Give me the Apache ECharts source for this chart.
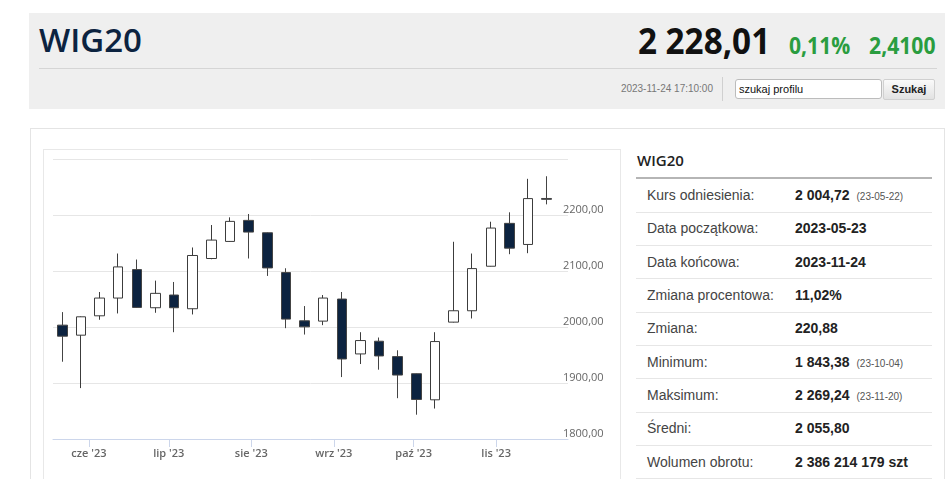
<!DOCTYPE html>
<html><head><meta charset="utf-8">
<script src="https://cdn.jsdelivr.net/npm/echarts@6/dist/echarts.min.js"></script>
<style>
html,body{margin:0;padding:0;background:#fff;width:948px;height:479px;overflow:hidden;}
.abs{position:absolute;white-space:nowrap;}
#hdr{left:29px;top:13px;width:916px;height:96px;background:#efefef;}
#title{left:39px;top:23px;font:600 33px/33px 'Open Sans';color:#0c2340;}
#hline{left:39px;top:68px;width:898px;height:1px;background:#d5d5d5;}
#price{right:178px;top:23px;font:700 35px/35px 'Open Sans';color:#111;transform:scaleX(0.95);transform-origin:right center;}
#pct{left:789px;top:33px;font:700 24px/24px 'Open Sans';color:#2a9d3f;transform:scaleX(0.88);transform-origin:left center;}
#chg{right:13px;top:33px;font:700 24px/24px 'Open Sans';color:#2a9d3f;transform:scaleX(0.88);transform-origin:right center;}
#stamp{right:235px;top:83px;font:10px/12px 'Liberation Sans';color:#777;}
#vsep{left:722px;top:77px;width:1px;height:24px;background:#d0d0d0;}
#inp{left:735px;top:79px;width:142px;height:18px;border:1px solid #bcbcbc;border-radius:3px;background:#fff;font:11px/18px 'Liberation Sans';color:#111;padding-left:3px;box-sizing:content-box;}
#btn{left:883px;top:79px;width:50px;height:19px;border:1px solid #d0d0d0;border-radius:2px;background:linear-gradient(#fafafa,#e2e2e2);font:700 11px/19px 'Liberation Sans';color:#222;text-align:center;}
#outer{left:30px;top:128px;width:913px;height:400px;border:1px solid #e4e4e4;background:#fff;}
#cbox{left:43px;top:149px;width:576px;height:400px;border:1px solid #e8e8e8;background:#fff;}
#ttitle{left:637px;top:153px;font:600 15px/15px 'Open Sans';color:#222;}
#tline{left:636px;top:177px;width:296px;height:2px;background:#b5b5b5;}
.sep{position:absolute;left:636px;width:296px;height:1px;background:#e6e6e6;}
.lab{position:absolute;left:647px;font:14px/16px 'Liberation Sans';color:#444;white-space:nowrap;}
.val{position:absolute;left:795px;font:700 14px/16px 'Liberation Sans';color:#222;white-space:nowrap;}
.note{font:400 10px/16px 'Liberation Sans';color:#555;margin-left:7px;}
#chart{position:absolute;left:0;top:0;width:948px;height:479px;z-index:5;}
</style></head>
<body>
<div class="abs" id="hdr"></div>
<div class="abs" id="title">WIG20</div>
<div class="abs" id="hline"></div>
<div class="abs" id="price">2 228,01</div>
<div class="abs" id="pct">0,11%</div>
<div class="abs" id="chg">2,4100</div>
<div class="abs" id="stamp">2023-11-24 17:10:00</div>
<div class="abs" id="vsep"></div>
<div class="abs" id="inp">szukaj profilu</div>
<div class="abs" id="btn">Szukaj</div>
<div class="abs" id="outer"></div>
<div class="abs" id="cbox"></div>
<div class="abs" id="ttitle">WIG20</div>
<div class="abs" id="tline"></div>
<div id="table"></div>
<div id="chart"></div>
<script>
// ---- chart data (weekly candles) ----
const weeks = ['2023-05-22','2023-05-29','2023-06-05','2023-06-12','2023-06-19','2023-06-26','2023-07-03','2023-07-10','2023-07-17','2023-07-24','2023-07-31','2023-08-07','2023-08-14','2023-08-21','2023-08-28','2023-09-04','2023-09-11','2023-09-18','2023-09-25','2023-10-02','2023-10-09','2023-10-16','2023-10-23','2023-10-30','2023-11-06','2023-11-13','2023-11-20'];
const openV  = [2003.3,1985.4,2020.0,2051.7,2102.5,2034.4,2057.1,2032.6,2122.3,2152.8,2190.4,2168.3,2097.2,2011.1,2010.5,2049.9,1951.9,1974.6,1947.1,1916.6,1870.0,2008.7,2029.0,2108.5,2185.1,2147.4,2229.5];
const closeV = [1983.6,2018.2,2051.7,2107.3,2035.0,2060.1,2034.4,2127.7,2155.2,2188.6,2169.5,2105.5,2014.1,2000.3,2051.7,1942.9,1975.8,1948.3,1914.2,1870.6,1974.0,2029.0,2104.3,2176.7,2140.8,2229.3,2228.0];
const lowV   = [1938.0,1890.9,2012.9,2024.2,2034.0,2025.4,1990.7,2022.4,2121.0,2152.0,2122.3,2091.2,1997.9,1986.5,2003.3,1910.6,1933.9,1923.8,1872.9,1843.4,1854.4,2008.0,2015.2,2108.0,2130.0,2131.8,2219.0];
const highV  = [2026.6,2019.0,2062.5,2131.2,2120.5,2082.8,2080.4,2142.0,2182.1,2195.8,2201.8,2169.0,2104.9,2037.4,2057.1,2062.5,1990.7,1981.2,1958.4,1917.0,1990.7,2152.2,2131.2,2188.0,2204.8,2264.6,2269.2];
const monthTicks = ['2023-06-01','2023-07-01','2023-08-01','2023-09-01','2023-10-01','2023-11-01'];
const monthNames = ['sty','lut','mar','kwi','maj','cze','lip','sie','wrz','paź','lis','gru'];
const yTicks = [1800,1900,2000,2100,2200,2300];
const xRange = ['2023-05-18T12:00:00Z','2023-11-28T00:00:00Z'];

// ---- table data ----
const tLabels = ['Kurs odniesienia:','Data początkowa:','Data końcowa:','Zmiana procentowa:','Zmiana:','Minimum:','Maksimum:','Średni:','Wolumen obrotu:'];
const tValues = ['2 004,72','2023-05-23','2023-11-24','11,02%','220,88','1 843,38','2 269,24','2 055,80','2 386 214 179 szt'];
const tNotes  = ['(23-05-22)','','','','','(23-10-04)','(23-11-20)','',''];

const ts = s => Date.parse(s.length === 10 ? s + 'T00:00:00Z' : s);

// build table
(function(){
  const t = document.getElementById('table');
  let html = '';
  const rowH = 33.33, firstCenter = 194.9, firstSep = 211.7;
  tLabels.forEach((l, i) => {
    const c = firstCenter + i * rowH;
    html += '<div class="lab" style="top:' + (c - 8) + 'px">' + l + '</div>';
    html += '<div class="val" style="top:' + (c - 8) + 'px">' + tValues[i] + (tNotes[i] ? '<span class="note">' + tNotes[i] + '</span>' : '') + '</div>';
    html += '<div class="sep" style="top:' + (firstSep + i * rowH) + 'px"></div>';
  });
  t.innerHTML = html;
})();

const candles = weeks.map((w, i) => [ts(w), openV[i], closeV[i], lowV[i], highV[i]]);
const tickVals = monthTicks.map(ts);

const chart = echarts.init(document.getElementById('chart'), null, {renderer: 'canvas'});
chart.setOption({
  animation: false,
  backgroundColor: 'transparent',
  grid: {left: 53, right: 380, top: 159, bottom: 40},
  xAxis: {
    type: 'value',
    min: ts(xRange[0]),
    max: ts(xRange[1]),
    axisLine: {show: true, lineStyle: {color: '#ccd6eb', width: 1}},
    axisTick: {show: true, customValues: tickVals, length: 8, lineStyle: {color: '#ccd6eb'}},
    axisLabel: {
      customValues: tickVals,
      margin: 9,
      color: '#666',
      fontFamily: 'Open Sans',
      fontWeight: 600,
      fontSize: 11,
      formatter: v => { const d = new Date(v); return monthNames[d.getUTCMonth()] + " '" + String(d.getUTCFullYear()).slice(2); }
    },
    splitLine: {show: false}
  },
  yAxis: {
    type: 'value',
    position: 'right',
    min: yTicks[0],
    max: yTicks[yTicks.length - 1],
    interval: 100,
    axisLine: {show: false},
    axisTick: {show: false},
    splitLine: {show: true, lineStyle: {color: '#e6e6e6', width: 1}},
    axisLabel: {
      margin: -5,
      verticalAlign: 'bottom',
      color: '#666',
      fontFamily: 'Open Sans',
      fontSize: 11,
      formatter: v => v === yTicks[yTicks.length - 1] ? '' : v.toFixed(2).replace('.', ',')
    }
  },
  series: [{
    type: 'candlestick',
    data: candles,
    encode: {x: 0, y: [1, 2, 3, 4]},
    barWidth: 10,
    itemStyle: {
      color: '#ffffff',
      color0: '#0c2340',
      borderColor: '#3c3c3c',
      borderColor0: '#444444',
      borderWidth: 1
    }
  }]
});
</script>
</body></html>
